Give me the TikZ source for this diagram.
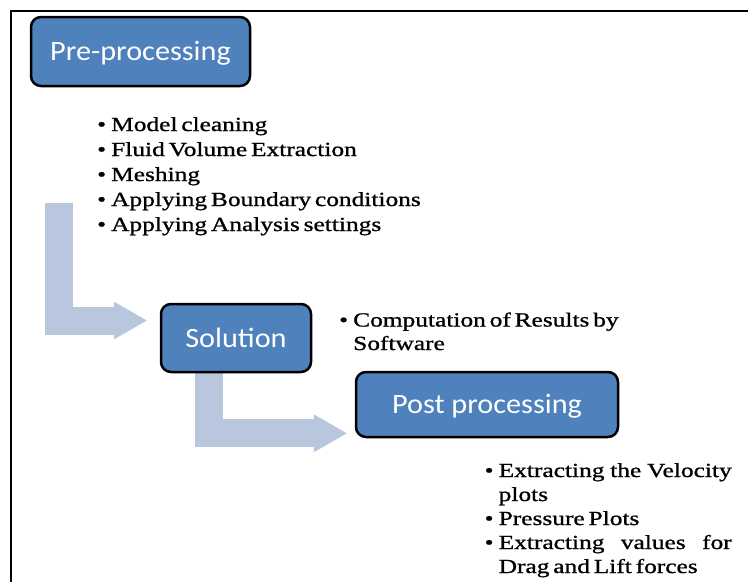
\documentclass[tikz,border=0pt]{standalone}
\usepackage{fontspec}
\setmainfont{Liberation Serif}[FakeStretch=1.27,WordSpace=0.6,FakeBold=1]
\newfontfamily\boxfont{Carlito}[FakeStretch=1.08]
\usetikzlibrary{arrows.meta,backgrounds}
\definecolor{boxblue}{HTML}{4F81BD}
\definecolor{bendblue}{HTML}{B9C7DE}
\newcommand{\bitem}[1]{\par\noindent\hangindent=14pt\hangafter=1\makebox[14pt][l]{•}#1}

\begin{document}
\begin{tikzpicture}[x=1pt,y=-1pt,
  stepbox/.style={draw=black,line width=2.5pt,fill=boxblue,rounded corners=10pt,inner sep=0pt,text=white,font=\boxfont\fontsize{28}{30}\selectfont,text height=18pt,text depth=0pt},
  bendarrow/.style={bendblue,line width=28pt,line join=miter,-{Triangle[length=33pt,width=38pt,line width=0pt]}},
  bullets/.style={anchor=base west,inner sep=0pt,font=\fontsize{20}{25}\selectfont}]
\useasboundingbox (0,0) rectangle (748,582);
\draw[line width=2.5pt] (748,11) -| (11,582);
\node[stepbox,minimum width=219pt,minimum height=69pt] (b0) at (140.5,51.5) {Pre-processing};
\node[stepbox,minimum width=150pt,minimum height=68pt] (b1) at (236,338) {Solution};
\node[stepbox,minimum width=262pt,minimum height=65pt] (b2) at (487,404.5) {Post processing};
\coordinate (c0) at (58.5,203);
\begin{scope}[on background layer]
\draw[bendarrow,shorten >=13pt] (c0) |- ([yshift=17.5pt]b1.west);
\draw[bendarrow,shorten >=8pt] ([xshift=-27.3pt]b1.south) |- ([yshift=-28.8pt]b2.west);
\end{scope}
\node[bullets] (l0) at (97,131) {\parbox[t]{340pt}{\bitem{Model cleaning}\bitem{Fluid Volume Extraction}\bitem{Meshing}\bitem{Applying Boundary conditions}\bitem{Applying Analysis settings}}};
\node[bullets,font=\fontsize{20}{23.5}\selectfont] (l1) at (339,326.5) {\parbox[t]{300pt}{\bitem{Computation of Results by\newline Software}}};
\node[bullets,font=\fontsize{20}{24}\selectfont] (l2) at (484.5,477) {\parbox[t]{247pt}{\bitem{Extracting the Velocity\linebreak plots}\bitem{Pressure Plots}\bitem{Extracting values for\linebreak Drag and Lift forces}}};
\end{tikzpicture}
\end{document}
